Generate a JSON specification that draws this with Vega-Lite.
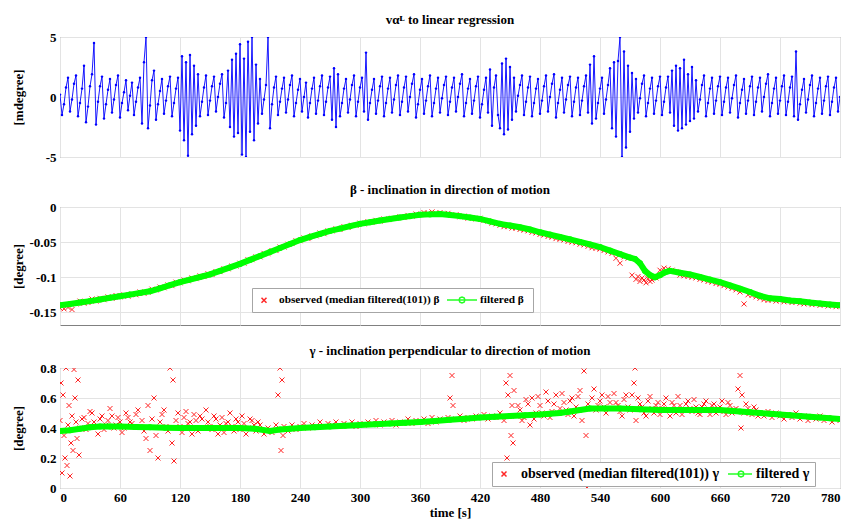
{
"$schema":"https://vega.github.io/schema/vega-lite/v6.json",
"padding":{"left":11,"top":13,"right":0,"bottom":0},
"background":"white",
"config":{
"font":"Liberation Serif",
"title":{"font":"Liberation Serif","fontWeight":"bold","fontSize":13,"offset":4,"color":"black"},
"axis":{"labelFont":"Liberation Serif","labelFontWeight":"bold","labelFontSize":13,"labelColor":"black","titleFont":"Liberation Serif","titleFontWeight":"bold","titleFontSize":13,"titleColor":"black","gridColor":"#e3e3e3","domain":false,"ticks":false,"labelPadding":4},
"axisY":{"titleX":-42,"titleBaseline":"middle"},
"view":{"stroke":"#808080"}
},
"spacing":18,
"resolve":{"scale":{"color":"independent","shape":"independent"}},
"datasets":{
"blue":[{"t":0,"v":0.2},{"t":2,"v":-1.5},{"t":4,"v":-0.6},{"t":6,"v":0.8},{"t":8,"v":1.6},{"t":10,"v":-1.2},{"t":12,"v":-0.2},{"t":14,"v":1.1},{"t":16,"v":1.8},{"t":18,"v":-1.6},
{"t":20,"v":-0.5},{"t":22,"v":0.7},{"t":24,"v":2.6},{"t":26,"v":-2.1},{"t":28,"v":-0.8},{"t":30,"v":0.9},{"t":32,"v":1.9},{"t":34,"v":4.5},{"t":36,"v":-2.3},{"t":38,"v":-0.4},
{"t":40,"v":0.9},{"t":42,"v":1.7},{"t":44,"v":-1.8},{"t":46,"v":-0.6},{"t":48,"v":0.6},{"t":50,"v":1.5},{"t":52,"v":-1.3},{"t":54,"v":-0.2},{"t":56,"v":1.0},{"t":58,"v":1.8},
{"t":60,"v":-1.7},{"t":62,"v":-0.5},{"t":64,"v":0.4},{"t":66,"v":1.4},{"t":68,"v":-1.1},{"t":70,"v":0.1},{"t":72,"v":1.2},{"t":74,"v":-1.5},{"t":76,"v":-0.4},{"t":78,"v":0.8},
{"t":80,"v":1.6},{"t":82,"v":-2.2},{"t":84,"v":2.9},{"t":86,"v":5.0},{"t":88,"v":-2.6},{"t":90,"v":-0.7},{"t":92,"v":1.4},{"t":94,"v":2.2},{"t":96,"v":-1.9},{"t":98,"v":-0.6},
{"t":100,"v":0.5},{"t":102,"v":1.5},{"t":104,"v":-1.4},{"t":106,"v":-0.3},{"t":108,"v":0.9},{"t":110,"v":1.7},{"t":112,"v":-1.6},{"t":114,"v":-0.5},{"t":116,"v":0.7},{"t":118,"v":1.6},
{"t":120,"v":-2.8},{"t":122,"v":3.4},{"t":124,"v":-3.6},{"t":126,"v":2.9},{"t":128,"v":-4.9},{"t":130,"v":3.5},{"t":132,"v":-3.1},{"t":134,"v":2.6},{"t":136,"v":-2.4},{"t":138,"v":1.9},
{"t":140,"v":-1.6},{"t":142,"v":-0.4},{"t":144,"v":0.8},{"t":146,"v":1.8},{"t":148,"v":-1.5},{"t":150,"v":-0.3},{"t":152,"v":0.9},{"t":154,"v":1.7},{"t":156,"v":-1.2},{"t":158,"v":0.0},
{"t":160,"v":1.1},{"t":162,"v":1.9},{"t":164,"v":-1.7},{"t":166,"v":-0.5},{"t":168,"v":2.2},{"t":170,"v":-2.5},{"t":172,"v":3.1},{"t":174,"v":-3.3},{"t":176,"v":3.6},{"t":178,"v":-3.0},
{"t":180,"v":4.4},{"t":182,"v":-4.8},{"t":184,"v":3.2},{"t":186,"v":-5.0},{"t":188,"v":4.6},{"t":190,"v":-2.9},{"t":192,"v":5.0},{"t":194,"v":-3.6},{"t":196,"v":2.7},{"t":198,"v":-2.2},
{"t":200,"v":1.5},{"t":202,"v":-1.4},{"t":204,"v":-0.2},{"t":206,"v":1.0},{"t":208,"v":5.0},{"t":210,"v":-2.6},{"t":212,"v":-0.6},{"t":214,"v":0.8},{"t":216,"v":1.7},{"t":218,"v":-1.5},
{"t":220,"v":-0.4},{"t":222,"v":0.7},{"t":224,"v":1.6},{"t":226,"v":-1.3},{"t":228,"v":-0.2},{"t":230,"v":1.0},{"t":232,"v":1.8},{"t":234,"v":-1.6},{"t":236,"v":-0.5},{"t":238,"v":0.6},
{"t":240,"v":1.5},{"t":242,"v":-1.2},{"t":244,"v":0.0},{"t":246,"v":1.2},{"t":248,"v":-1.7},{"t":250,"v":-0.5},{"t":252,"v":0.7},{"t":254,"v":1.6},{"t":256,"v":-1.4},{"t":258,"v":-0.3},
{"t":260,"v":0.9},{"t":262,"v":1.8},{"t":264,"v":-1.5},{"t":266,"v":-0.4},{"t":268,"v":0.8},{"t":270,"v":1.7},{"t":272,"v":-1.9},{"t":274,"v":2.4},{"t":276,"v":-2.5},{"t":278,"v":1.9},
{"t":280,"v":-1.6},{"t":282,"v":-0.5},{"t":284,"v":0.7},{"t":286,"v":1.5},{"t":288,"v":-1.3},{"t":290,"v":-0.2},{"t":292,"v":1.0},{"t":294,"v":1.8},{"t":296,"v":-1.6},{"t":298,"v":-0.4},
{"t":300,"v":0.8},{"t":302,"v":1.6},{"t":304,"v":-1.2},{"t":306,"v":3.7},{"t":308,"v":-1.9},{"t":310,"v":-0.5},{"t":312,"v":0.6},{"t":314,"v":1.5},{"t":316,"v":-1.4},{"t":318,"v":-0.3},
{"t":320,"v":0.9},{"t":322,"v":1.7},{"t":324,"v":-1.6},{"t":326,"v":-0.5},{"t":328,"v":0.7},{"t":330,"v":1.6},{"t":332,"v":-1.3},{"t":334,"v":-0.2},{"t":336,"v":1.0},{"t":338,"v":1.8},
{"t":340,"v":-1.5},{"t":342,"v":-0.4},{"t":344,"v":0.8},{"t":346,"v":1.7},{"t":348,"v":-1.2},{"t":350,"v":0.0},{"t":352,"v":1.1},{"t":354,"v":1.9},{"t":356,"v":-1.7},{"t":358,"v":-0.6},
{"t":360,"v":0.6},{"t":362,"v":1.5},{"t":364,"v":-1.4},{"t":366,"v":-0.3},{"t":368,"v":0.9},{"t":370,"v":1.8},{"t":372,"v":-1.6},{"t":374,"v":-0.5},{"t":376,"v":0.7},{"t":378,"v":1.6},
{"t":380,"v":-1.3},{"t":382,"v":-0.1},{"t":384,"v":1.0},{"t":386,"v":1.7},{"t":388,"v":-1.5},{"t":390,"v":-0.4},{"t":392,"v":0.8},{"t":394,"v":1.6},{"t":396,"v":-1.2},{"t":398,"v":0.0},
{"t":400,"v":1.1},{"t":402,"v":1.9},{"t":404,"v":-1.6},{"t":406,"v":-0.5},{"t":408,"v":0.7},{"t":410,"v":1.5},{"t":412,"v":-1.4},{"t":414,"v":-0.3},{"t":416,"v":0.9},{"t":418,"v":1.7},
{"t":420,"v":-1.7},{"t":422,"v":-0.6},{"t":424,"v":0.6},{"t":426,"v":1.6},{"t":428,"v":-1.3},{"t":430,"v":2.3},{"t":432,"v":-2.4},{"t":434,"v":0.8},{"t":436,"v":1.8},{"t":438,"v":-1.5},
{"t":440,"v":-2.6},{"t":442,"v":2.8},{"t":444,"v":-3.1},{"t":446,"v":3.2},{"t":448,"v":-2.7},{"t":450,"v":2.5},{"t":452,"v":-1.9},{"t":454,"v":1.6},{"t":456,"v":-1.2},{"t":458,"v":0.1},
{"t":460,"v":1.0},{"t":462,"v":1.8},{"t":464,"v":-1.5},{"t":466,"v":-0.4},{"t":468,"v":0.8},{"t":470,"v":1.7},{"t":472,"v":-1.6},{"t":474,"v":-0.5},{"t":476,"v":0.7},{"t":478,"v":1.5},
{"t":480,"v":-1.4},{"t":482,"v":-0.3},{"t":484,"v":0.9},{"t":486,"v":1.8},{"t":488,"v":-1.2},{"t":490,"v":0.0},{"t":492,"v":1.1},{"t":494,"v":1.9},{"t":496,"v":-1.7},{"t":498,"v":-0.5},
{"t":500,"v":0.6},{"t":502,"v":1.6},{"t":504,"v":-1.3},{"t":506,"v":-0.2},{"t":508,"v":1.0},{"t":510,"v":1.7},{"t":512,"v":-1.6},{"t":514,"v":-0.4},{"t":516,"v":0.8},{"t":518,"v":1.6},
{"t":520,"v":-1.5},{"t":522,"v":-0.3},{"t":524,"v":0.9},{"t":526,"v":1.8},{"t":528,"v":-1.3},{"t":530,"v":2.7},{"t":532,"v":-2.2},{"t":534,"v":3.4},{"t":536,"v":-1.8},{"t":538,"v":-0.5},
{"t":540,"v":0.7},{"t":542,"v":1.6},{"t":544,"v":-1.4},{"t":546,"v":-0.2},{"t":548,"v":1.0},{"t":550,"v":2.4},{"t":552,"v":-2.6},{"t":554,"v":2.9},{"t":556,"v":-3.3},{"t":558,"v":3.0},
{"t":560,"v":5.0},{"t":562,"v":-5.0},{"t":564,"v":3.8},{"t":566,"v":-4.2},{"t":568,"v":2.6},{"t":570,"v":-2.9},{"t":572,"v":2.0},{"t":574,"v":-1.8},{"t":576,"v":1.5},{"t":578,"v":-1.3},
{"t":580,"v":-0.1},{"t":582,"v":1.1},{"t":584,"v":1.8},{"t":586,"v":-1.6},{"t":588,"v":-0.5},{"t":590,"v":0.7},{"t":592,"v":1.6},{"t":594,"v":-1.4},{"t":596,"v":-0.3},{"t":598,"v":0.9},
{"t":600,"v":1.7},{"t":602,"v":-1.5},{"t":604,"v":-0.4},{"t":606,"v":0.8},{"t":608,"v":1.7},{"t":610,"v":-1.3},{"t":612,"v":2.2},{"t":614,"v":-2.4},{"t":616,"v":2.6},{"t":618,"v":-2.8},
{"t":620,"v":2.4},{"t":622,"v":-2.6},{"t":624,"v":3.1},{"t":626,"v":-2.3},{"t":628,"v":1.9},{"t":630,"v":-2.0},{"t":632,"v":2.5},{"t":634,"v":-1.8},{"t":636,"v":1.4},{"t":638,"v":-1.2},
{"t":640,"v":-0.2},{"t":642,"v":1.0},{"t":644,"v":1.8},{"t":646,"v":-1.6},{"t":648,"v":-0.5},{"t":650,"v":0.7},{"t":652,"v":1.6},{"t":654,"v":-1.4},{"t":656,"v":-0.3},{"t":658,"v":0.9},
{"t":660,"v":1.7},{"t":662,"v":-1.5},{"t":664,"v":-0.4},{"t":666,"v":0.8},{"t":668,"v":1.6},{"t":670,"v":-1.3},{"t":672,"v":-0.1},{"t":674,"v":1.0},{"t":676,"v":1.8},{"t":678,"v":-1.7},
{"t":680,"v":-0.5},{"t":682,"v":0.6},{"t":684,"v":1.5},{"t":686,"v":-1.4},{"t":688,"v":-0.3},{"t":690,"v":0.9},{"t":692,"v":1.7},{"t":694,"v":-1.5},{"t":696,"v":-0.4},{"t":698,"v":0.8},
{"t":700,"v":1.6},{"t":702,"v":-1.2},{"t":704,"v":0.0},{"t":706,"v":1.1},{"t":708,"v":1.9},{"t":710,"v":-1.6},{"t":712,"v":-0.5},{"t":714,"v":0.7},{"t":716,"v":1.6},{"t":718,"v":-1.4},
{"t":720,"v":-0.3},{"t":722,"v":0.9},{"t":724,"v":1.8},{"t":726,"v":-1.5},{"t":728,"v":-0.4},{"t":730,"v":0.8},{"t":732,"v":1.7},{"t":734,"v":-1.6},{"t":736,"v":3.8},{"t":738,"v":-1.9},
{"t":740,"v":-0.6},{"t":742,"v":0.6},{"t":744,"v":1.5},{"t":746,"v":-1.3},{"t":748,"v":-0.2},{"t":750,"v":1.0},{"t":752,"v":1.8},{"t":754,"v":-1.6},{"t":756,"v":-0.5},{"t":758,"v":0.7},
{"t":760,"v":1.6},{"t":762,"v":-1.4},{"t":764,"v":-0.3},{"t":766,"v":0.9},{"t":768,"v":1.7},{"t":770,"v":-1.5},{"t":772,"v":-0.4},{"t":774,"v":0.8},{"t":776,"v":1.6},{"t":778,"v":-1.2},
{"t":780,"v":0.0}],
"beta_obs":[{"t":0,"v":-0.144},{"t":4,"v":-0.145},{"t":8,"v":-0.143},{"t":12,"v":-0.146},{"t":16,"v":-0.138},{"t":20,"v":-0.134},{"t":24,"v":-0.137},{"t":28,"v":-0.136},
{"t":32,"v":-0.131},{"t":36,"v":-0.134},{"t":40,"v":-0.130},{"t":44,"v":-0.132},{"t":48,"v":-0.128},{"t":52,"v":-0.130},{"t":56,"v":-0.126},
{"t":60,"v":-0.128},{"t":64,"v":-0.125},{"t":68,"v":-0.127},{"t":72,"v":-0.124},{"t":76,"v":-0.125},{"t":80,"v":-0.121},{"t":84,"v":-0.123},{"t":88,"v":-0.121},
{"t":92,"v":-0.117},{"t":96,"v":-0.118},{"t":100,"v":-0.114},{"t":104,"v":-0.115},{"t":108,"v":-0.111},{"t":112,"v":-0.112},{"t":116,"v":-0.107},
{"t":120,"v":-0.108},{"t":124,"v":-0.104},{"t":128,"v":-0.105},{"t":132,"v":-0.101},{"t":136,"v":-0.102},{"t":140,"v":-0.098},{"t":144,"v":-0.099},{"t":148,"v":-0.095},
{"t":152,"v":-0.096},{"t":156,"v":-0.092},{"t":160,"v":-0.092},{"t":164,"v":-0.088},{"t":168,"v":-0.088},{"t":172,"v":-0.084},{"t":176,"v":-0.084},
{"t":180,"v":-0.080},{"t":184,"v":-0.080},{"t":188,"v":-0.075},{"t":192,"v":-0.075},{"t":196,"v":-0.071},{"t":200,"v":-0.071},{"t":204,"v":-0.066},{"t":208,"v":-0.066},
{"t":212,"v":-0.062},{"t":216,"v":-0.062},{"t":220,"v":-0.057},{"t":224,"v":-0.057},{"t":228,"v":-0.053},{"t":232,"v":-0.052},{"t":236,"v":-0.048},
{"t":240,"v":-0.048},{"t":244,"v":-0.044},{"t":248,"v":-0.045},{"t":252,"v":-0.041},{"t":256,"v":-0.041},{"t":260,"v":-0.037},{"t":264,"v":-0.038},{"t":268,"v":-0.034},
{"t":272,"v":-0.034},{"t":276,"v":-0.031},{"t":280,"v":-0.032},{"t":284,"v":-0.028},{"t":288,"v":-0.029},{"t":292,"v":-0.026},{"t":296,"v":-0.026},
{"t":300,"v":-0.023},{"t":304,"v":-0.024},{"t":308,"v":-0.021},{"t":312,"v":-0.022},{"t":316,"v":-0.019},{"t":320,"v":-0.020},{"t":324,"v":-0.017},{"t":328,"v":-0.018},
{"t":332,"v":-0.016},{"t":336,"v":-0.016},{"t":340,"v":-0.014},{"t":344,"v":-0.015},{"t":348,"v":-0.012},{"t":352,"v":-0.013},{"t":356,"v":-0.010},
{"t":360,"v":-0.011},{"t":364,"v":-0.008},{"t":368,"v":-0.009},{"t":372,"v":-0.007},{"t":376,"v":-0.009},
{"t":380,"v":-0.008},{"t":384,"v":-0.010},{"t":388,"v":-0.009},{"t":392,"v":-0.012},{"t":396,"v":-0.011},
{"t":400,"v":-0.014},{"t":404,"v":-0.013},{"t":408,"v":-0.016},{"t":412,"v":-0.015},{"t":416,"v":-0.017},
{"t":420,"v":-0.016},{"t":424,"v":-0.019},{"t":428,"v":-0.020},{"t":432,"v":-0.023},{"t":436,"v":-0.024},
{"t":440,"v":-0.026},{"t":444,"v":-0.028},{"t":448,"v":-0.028},{"t":452,"v":-0.030},{"t":456,"v":-0.030},{"t":460,"v":-0.032},{"t":464,"v":-0.033},
{"t":468,"v":-0.034},{"t":472,"v":-0.036},{"t":476,"v":-0.037},{"t":480,"v":-0.039},
{"t":484,"v":-0.040},{"t":488,"v":-0.042},{"t":492,"v":-0.043},{"t":496,"v":-0.045},{"t":500,"v":-0.046},{"t":504,"v":-0.047},{"t":508,"v":-0.049},
{"t":512,"v":-0.050},{"t":516,"v":-0.051},{"t":520,"v":-0.053},{"t":524,"v":-0.054},{"t":528,"v":-0.056},{"t":532,"v":-0.058},{"t":536,"v":-0.059},
{"t":540,"v":-0.060},{"t":544,"v":-0.062},{"t":548,"v":-0.064},{"t":552,"v":-0.066},{"t":556,"v":-0.073},{"t":560,"v":-0.080},
{"t":564,"v":-0.071},{"t":568,"v":-0.073},{"t":572,"v":-0.097},
{"t":576,"v":-0.103},{"t":578,"v":-0.099},{"t":580,"v":-0.106},{"t":582,"v":-0.101},{"t":584,"v":-0.104},{"t":586,"v":-0.108},{"t":588,"v":-0.102},{"t":590,"v":-0.106},{"t":592,"v":-0.104},{"t":596,"v":-0.101},
{"t":600,"v":-0.090},{"t":604,"v":-0.087},{"t":608,"v":-0.088},
{"t":612,"v":-0.090},{"t":616,"v":-0.092},{"t":620,"v":-0.097},{"t":624,"v":-0.098},{"t":628,"v":-0.099},
{"t":632,"v":-0.100},{"t":636,"v":-0.101},{"t":640,"v":-0.103},{"t":644,"v":-0.104},{"t":648,"v":-0.106},{"t":652,"v":-0.107},{"t":656,"v":-0.109},
{"t":660,"v":-0.110},{"t":664,"v":-0.112},{"t":668,"v":-0.114},{"t":672,"v":-0.116},{"t":676,"v":-0.118},{"t":680,"v":-0.121},{"t":684,"v":-0.138},{"t":688,"v":-0.125},
{"t":692,"v":-0.126},{"t":696,"v":-0.128},{"t":700,"v":-0.130},{"t":704,"v":-0.132},
{"t":708,"v":-0.133},{"t":712,"v":-0.132},{"t":716,"v":-0.134},
{"t":720,"v":-0.133},{"t":724,"v":-0.135},{"t":728,"v":-0.134},{"t":732,"v":-0.136},{"t":736,"v":-0.135},{"t":740,"v":-0.137},{"t":744,"v":-0.138},{"t":748,"v":-0.137},
{"t":752,"v":-0.139},{"t":756,"v":-0.138},{"t":760,"v":-0.140},{"t":764,"v":-0.139},{"t":768,"v":-0.141},{"t":772,"v":-0.140},{"t":776,"v":-0.142},{"t":780,"v":-0.141}],
"beta_filt":[{"t":0,"v":-0.140},{"t":10,"v":-0.138},{"t":20,"v":-0.136},{"t":30,"v":-0.134},{"t":40,"v":-0.1317},{"t":50,"v":-0.1293},{"t":60,"v":-0.127},{"t":70,"v":-0.1247},{"t":80,"v":-0.1223},{"t":90,"v":-0.120},
{"t":100,"v":-0.1157},{"t":110,"v":-0.1113},{"t":120,"v":-0.107},{"t":130,"v":-0.1033},{"t":140,"v":-0.0997},{"t":150,"v":-0.096},{"t":160,"v":-0.091},{"t":170,"v":-0.086},{"t":180,"v":-0.081},{"t":190,"v":-0.0753},
{"t":200,"v":-0.0697},{"t":210,"v":-0.064},{"t":220,"v":-0.0583},{"t":230,"v":-0.0527},{"t":240,"v":-0.047},{"t":250,"v":-0.0427},{"t":260,"v":-0.0383},{"t":270,"v":-0.034},{"t":280,"v":-0.0307},{"t":290,"v":-0.0273},
{"t":300,"v":-0.024},{"t":310,"v":-0.0217},{"t":320,"v":-0.0193},{"t":330,"v":-0.017},{"t":340,"v":-0.015},{"t":350,"v":-0.013},{"t":360,"v":-0.011},{"t":370,"v":-0.0105},{"t":380,"v":-0.010},{"t":390,"v":-0.0115},
{"t":400,"v":-0.013},{"t":410,"v":-0.015},{"t":420,"v":-0.017},{"t":430,"v":-0.0205},{"t":440,"v":-0.024},{"t":450,"v":-0.0264},{"t":460,"v":-0.0288},{"t":470,"v":-0.032},{"t":480,"v":-0.036},{"t":490,"v":-0.0393},
{"t":500,"v":-0.0427},{"t":510,"v":-0.046},{"t":520,"v":-0.0497},{"t":530,"v":-0.0533},{"t":540,"v":-0.057},{"t":550,"v":-0.062},{"t":560,"v":-0.067},{"t":570,"v":-0.072},{"t":575,"v":-0.074},{"t":580,"v":-0.080},
{"t":585,"v":-0.091},{"t":590,"v":-0.097},{"t":595,"v":-0.100},{"t":600,"v":-0.097},{"t":605,"v":-0.093},{"t":610,"v":-0.091},{"t":620,"v":-0.0935},{"t":630,"v":-0.096},{"t":640,"v":-0.0997},{"t":650,"v":-0.1033},
{"t":660,"v":-0.107},{"t":670,"v":-0.1117},{"t":680,"v":-0.1163},{"t":690,"v":-0.121},{"t":700,"v":-0.1264},{"t":710,"v":-0.130},{"t":720,"v":-0.131},{"t":730,"v":-0.133},{"t":740,"v":-0.1343},{"t":750,"v":-0.136},
{"t":760,"v":-0.1373},{"t":770,"v":-0.1387},{"t":780,"v":-0.140}],
"gamma_obs":[{"t":0,"v":0.45},{"t":1,"v":0.7},{"t":2,"v":0.1},{"t":3,"v":0.62},{"t":4,"v":0.35},{"t":5,"v":0.2},{"t":6,"v":0.8},{"t":7,"v":0.15},{"t":8,"v":0.42},{"t":9,"v":0.55},{"t":10,"v":0.08},{"t":11,"v":0.3},{"t":12,"v":0.48},{"t":13,"v":0.25},{"t":14,"v":0.79},{"t":15,"v":0.6},{"t":16,"v":0.44},{"t":17,"v":0.33},{"t":18,"v":0.72},{"t":19,"v":0.22},
{"t":20,"v":0.40},{"t":24,"v":0.47},{"t":28,"v":0.43},{"t":32,"v":0.50},{"t":36,"v":0.41},{"t":40,"v":0.46},{"t":44,"v":0.39},{"t":48,"v":0.45},{"t":52,"v":0.48},{"t":56,"v":0.42},
{"t":60,"v":0.44},{"t":64,"v":0.40},{"t":68,"v":0.47},{"t":72,"v":0.43},{"t":76,"v":0.49},{"t":80,"v":0.41},{"t":84,"v":0.38},{"t":88,"v":0.55},{"t":90,"v":0.25},{"t":92,"v":0.46},{"t":94,"v":0.60},{"t":96,"v":0.35},{"t":98,"v":0.20},
{"t":100,"v":0.44},{"t":104,"v":0.52},{"t":108,"v":0.38},{"t":110,"v":0.80},{"t":112,"v":0.30},{"t":113,"v":0.72},{"t":114,"v":0.18},{"t":116,"v":0.45},
{"t":120,"v":0.41},{"t":124,"v":0.47},{"t":128,"v":0.43},{"t":132,"v":0.36},{"t":136,"v":0.45},{"t":140,"v":0.48},{"t":144,"v":0.40},{"t":148,"v":0.44},{"t":152,"v":0.39},{"t":156,"v":0.46},
{"t":160,"v":0.42},{"t":164,"v":0.37},{"t":168,"v":0.44},{"t":172,"v":0.41},{"t":176,"v":0.46},{"t":180,"v":0.39},{"t":184,"v":0.43},{"t":188,"v":0.40},{"t":192,"v":0.45},{"t":196,"v":0.38},
{"t":22,"v":0.46},{"t":26,"v":0.39},{"t":30,"v":0.51},{"t":34,"v":0.44},{"t":38,"v":0.36},{"t":42,"v":0.48},{"t":46,"v":0.42},{"t":50,"v":0.53},{"t":54,"v":0.40},{"t":58,"v":0.47},{"t":62,"v":0.37},{"t":66,"v":0.50},{"t":70,"v":0.44},{"t":74,"v":0.41},{"t":78,"v":0.52},{"t":82,"v":0.45},{"t":86,"v":0.33},{"t":102,"v":0.49},{"t":106,"v":0.41},{"t":118,"v":0.50},{"t":122,"v":0.37},{"t":126,"v":0.51},{"t":130,"v":0.44},{"t":134,"v":0.49},{"t":138,"v":0.38},{"t":142,"v":0.46},{"t":146,"v":0.52},{"t":150,"v":0.41},{"t":154,"v":0.48},{"t":158,"v":0.36},{"t":162,"v":0.47},{"t":166,"v":0.43},{"t":170,"v":0.50},{"t":174,"v":0.38},{"t":178,"v":0.44},{"t":182,"v":0.48},{"t":186,"v":0.36},{"t":190,"v":0.46},{"t":194,"v":0.42},{"t":198,"v":0.44},
{"t":200,"v":0.42},{"t":204,"v":0.36},{"t":208,"v":0.40},{"t":212,"v":0.37},{"t":216,"v":0.42},{"t":218,"v":0.62},{"t":220,"v":0.80},{"t":221,"v":0.25},{"t":222,"v":0.72},{"t":223,"v":0.35},{"t":224,"v":0.41},{"t":228,"v":0.38},{"t":232,"v":0.42},{"t":236,"v":0.39},
{"t":240,"v":0.41},{"t":244,"v":0.43},{"t":248,"v":0.40},{"t":252,"v":0.42},{"t":256,"v":0.41},{"t":260,"v":0.44},{"t":264,"v":0.41},{"t":268,"v":0.43},{"t":272,"v":0.42},{"t":276,"v":0.44},
{"t":280,"v":0.41},{"t":284,"v":0.43},{"t":288,"v":0.42},{"t":292,"v":0.44},{"t":296,"v":0.41},{"t":300,"v":0.43},{"t":304,"v":0.42},{"t":308,"v":0.44},{"t":312,"v":0.43},{"t":316,"v":0.45},
{"t":320,"v":0.42},{"t":324,"v":0.44},{"t":328,"v":0.43},{"t":332,"v":0.45},{"t":336,"v":0.42},{"t":340,"v":0.44},{"t":344,"v":0.43},{"t":348,"v":0.46},{"t":352,"v":0.43},{"t":356,"v":0.45},
{"t":360,"v":0.44},{"t":364,"v":0.46},{"t":368,"v":0.43},{"t":372,"v":0.47},{"t":376,"v":0.44},{"t":380,"v":0.46},{"t":384,"v":0.45},{"t":388,"v":0.47},{"t":390,"v":0.60},{"t":392,"v":0.75},{"t":393,"v":0.55},{"t":396,"v":0.46},
{"t":400,"v":0.48},{"t":404,"v":0.45},{"t":408,"v":0.47},{"t":412,"v":0.46},{"t":416,"v":0.48},{"t":420,"v":0.47},{"t":424,"v":0.49},{"t":428,"v":0.46},{"t":432,"v":0.48},{"t":436,"v":0.47},
{"t":440,"v":0.50},{"t":444,"v":0.45},{"t":446,"v":0.70},{"t":447,"v":0.20},{"t":448,"v":0.62},{"t":449,"v":0.15},{"t":450,"v":0.75},{"t":451,"v":0.35},{"t":452,"v":0.55},{"t":453,"v":0.30},{"t":454,"v":0.65},{"t":456,"v":0.48},
{"t":460,"v":0.52},{"t":464,"v":0.47},{"t":468,"v":0.56},{"t":470,"v":0.42},{"t":472,"v":0.60},{"t":476,"v":0.50},{"t":480,"v":0.55},{"t":484,"v":0.48},{"t":488,"v":0.58},{"t":492,"v":0.51},{"t":496,"v":0.62},
{"t":500,"v":0.53},{"t":504,"v":0.57},{"t":508,"v":0.49},{"t":512,"v":0.60},{"t":516,"v":0.54},{"t":520,"v":0.65},{"t":522,"v":0.45},{"t":524,"v":0.78},{"t":525,"v":0.10},{"t":526,"v":0.35},{"t":527,"v":0.0},{"t":528,"v":0.56},
{"t":532,"v":0.60},{"t":536,"v":0.52},{"t":540,"v":0.58},{"t":544,"v":0.54},{"t":548,"v":0.61},{"t":552,"v":0.53},{"t":556,"v":0.57},{"t":560,"v":0.51},{"t":564,"v":0.59},{"t":568,"v":0.54},{"t":572,"v":0.62},{"t":574,"v":0.70},{"t":575,"v":0.80},{"t":576,"v":0.45},
{"t":580,"v":0.56},{"t":584,"v":0.50},{"t":588,"v":0.58},{"t":592,"v":0.53},{"t":596,"v":0.55},{"t":600,"v":0.49},{"t":604,"v":0.56},{"t":608,"v":0.52},{"t":612,"v":0.57},{"t":616,"v":0.50},
{"t":620,"v":0.55},{"t":624,"v":0.52},{"t":628,"v":0.58},{"t":632,"v":0.51},{"t":636,"v":0.54},{"t":640,"v":0.49},{"t":644,"v":0.56},{"t":648,"v":0.52},{"t":652,"v":0.55},{"t":656,"v":0.50},
{"t":660,"v":0.54},{"t":664,"v":0.51},{"t":668,"v":0.57},{"t":672,"v":0.50},{"t":676,"v":0.53},{"t":678,"v":0.66},{"t":680,"v":0.75},{"t":681,"v":0.40},{"t":682,"v":0.62},{"t":684,"v":0.50},{"t":688,"v":0.53},{"t":692,"v":0.49},{"t":696,"v":0.52},
{"t":458,"v":0.55},{"t":462,"v":0.45},{"t":466,"v":0.59},{"t":474,"v":0.46},{"t":478,"v":0.61},{"t":482,"v":0.50},{"t":486,"v":0.64},{"t":490,"v":0.47},{"t":494,"v":0.56},{"t":498,"v":0.50},{"t":502,"v":0.63},{"t":506,"v":0.52},{"t":510,"v":0.58},{"t":514,"v":0.48},{"t":518,"v":0.61},{"t":530,"v":0.53},{"t":534,"v":0.66},{"t":538,"v":0.55},{"t":542,"v":0.62},{"t":546,"v":0.50},{"t":550,"v":0.57},{"t":554,"v":0.63},{"t":558,"v":0.55},{"t":562,"v":0.48},{"t":566,"v":0.62},{"t":570,"v":0.52},{"t":578,"v":0.60},{"t":582,"v":0.54},{"t":586,"v":0.48},{"t":590,"v":0.61},{"t":594,"v":0.50},{"t":598,"v":0.57},{"t":602,"v":0.53},{"t":606,"v":0.60},{"t":610,"v":0.48},{"t":614,"v":0.55},{"t":618,"v":0.61},{"t":622,"v":0.49},{"t":626,"v":0.56},{"t":630,"v":0.53},{"t":634,"v":0.59},{"t":638,"v":0.50},{"t":642,"v":0.54},{"t":646,"v":0.58},{"t":650,"v":0.49},{"t":654,"v":0.56},{"t":658,"v":0.53},{"t":662,"v":0.58},{"t":666,"v":0.49},{"t":670,"v":0.55},{"t":674,"v":0.52},{"t":686,"v":0.56},{"t":690,"v":0.50},{"t":694,"v":0.54},{"t":698,"v":0.48},
{"t":700,"v":0.50},{"t":704,"v":0.48},{"t":708,"v":0.51},{"t":712,"v":0.47},{"t":716,"v":0.50},{"t":720,"v":0.48},{"t":724,"v":0.46},{"t":728,"v":0.49},{"t":732,"v":0.47},{"t":736,"v":0.50},
{"t":740,"v":0.46},{"t":744,"v":0.48},{"t":748,"v":0.45},{"t":752,"v":0.47},{"t":756,"v":0.46},{"t":760,"v":0.48},{"t":764,"v":0.45},{"t":768,"v":0.47},{"t":772,"v":0.44},{"t":776,"v":0.46},{"t":780,"v":0.45}],
"gamma_filt":[{"t":0,"v":0.38},{"t":10,"v":0.385},{"t":20,"v":0.395},{"t":30,"v":0.405},{"t":40,"v":0.41},{"t":50,"v":0.41},{"t":60,"v":0.41},{"t":75,"v":0.407},{"t":90,"v":0.405},{"t":105,"v":0.402},{"t":120,"v":0.40},{"t":135,"v":0.40},{"t":150,"v":0.40},{"t":165,"v":0.40},{"t":180,"v":0.40},{"t":195,"v":0.395},{"t":210,"v":0.38},{"t":220,"v":0.39},{"t":230,"v":0.395},{"t":240,"v":0.40},{"t":255,"v":0.405},{"t":270,"v":0.41},{"t":285,"v":0.415},{"t":300,"v":0.42},{"t":315,"v":0.425},{"t":330,"v":0.43},{"t":345,"v":0.435},{"t":360,"v":0.44},{"t":375,"v":0.447},{"t":390,"v":0.455},{"t":405,"v":0.462},{"t":420,"v":0.47},{"t":435,"v":0.475},{"t":450,"v":0.48},{"t":465,"v":0.485},{"t":480,"v":0.49},{"t":490,"v":0.495},{"t":500,"v":0.50},{"t":510,"v":0.51},{"t":520,"v":0.52},{"t":530,"v":0.53},{"t":545,"v":0.53},{"t":560,"v":0.53},{"t":580,"v":0.525},{"t":600,"v":0.52},{"t":615,"v":0.52},{"t":630,"v":0.52},{"t":645,"v":0.52},{"t":660,"v":0.52},{"t":670,"v":0.515},{"t":680,"v":0.51},{"t":690,"v":0.505},{"t":700,"v":0.50},{"t":710,"v":0.495},{"t":720,"v":0.49},{"t":730,"v":0.485},{"t":740,"v":0.48},{"t":750,"v":0.475},{"t":760,"v":0.47},{"t":770,"v":0.465},{"t":780,"v":0.46}]
},
"vconcat":[
{
"width":780,"height":120,
"title":"vαᴸ to linear regression",
"data":{"name":"blue"},
"mark":{"type":"line","color":"#0000ff","strokeWidth":0.9,"clip":true,"point":{"filled":true,"size":6,"color":"#0000ff"}},
"encoding":{
"x":{"field":"t","type":"quantitative","scale":{"domain":[0,780],"nice":false},"axis":{"values":[0,60,120,180,240,300,360,420,480,540,600,660,720,780],"labels":false,"title":null}},
"y":{"field":"v","type":"quantitative","scale":{"domain":[-5,5],"nice":false},"axis":{"values":[-5,0,5],"title":"[mdegree]","labelExpr":"replace(format(datum.value,'~g'),'−','-')"}}
}
},
{
"width":780,"height":118,
"title":"β - inclination in direction of motion",
"encoding":{
"x":{"field":"t","type":"quantitative","scale":{"domain":[0,780],"nice":false},"axis":{"values":[0,60,120,180,240,300,360,420,480,540,600,660,720,780],"labels":false,"title":null}},
"y":{"field":"v","type":"quantitative","scale":{"domain":[-0.168,0],"nice":false},"axis":{"values":[-0.15,-0.1,-0.05,0],"title":"[degree]","labelExpr":"replace(format(datum.value,'~g'),'−','-')"}}
},
"layer":[
{"data":{"name":"beta_obs"},
"mark":{"type":"point","filled":false,"size":100,"strokeWidth":1,"opacity":0.85,"clip":true},
"encoding":{
"color":{"datum":"observed (median filtered(101)) β","type":"nominal","scale":{"domain":["observed (median filtered(101)) β","filtered  β"],"range":["#ff0000","#00ff00"]},
"legend":{"orient":"none","legendX":192,"legendY":81,"direction":"horizontal","title":null,"labelFont":"Liberation Serif","labelFontWeight":"bold","labelFontSize":11.3,"labelColor":"black","labelLimit":400,"labelOffset":9,"columnPadding":4,"padding":6,"symbolSize":100,"symbolStrokeWidth":1.5,"strokeColor":"#a6a6a6","fillColor":"#ffffff"}},
"shape":{"datum":"observed (median filtered(101)) β","type":"nominal","scale":{"domain":["observed (median filtered(101)) β","filtered  β"],"range":["M-0.5,-0.5L0.5,0.5M-0.5,0.5L0.5,-0.5","M-3.6,0L2.4,0M0,0L-0.18,0.42L-0.6,0.6L-1.02,0.42L-1.2,0L-1.02,-0.42L-0.6,-0.6L-0.18,-0.42Z"]},
"legend":{"orient":"none","legendX":192,"legendY":81,"direction":"horizontal","title":null,"labelFont":"Liberation Serif","labelFontWeight":"bold","labelFontSize":11.3,"labelColor":"black","labelLimit":400,"labelOffset":9,"columnPadding":4,"padding":6,"symbolSize":100,"symbolStrokeWidth":1.5,"strokeColor":"#a6a6a6","fillColor":"#ffffff"}}
}},
{"data":{"name":"beta_filt"},
"mark":{"type":"line","color":"#00ff00","strokeWidth":6,"clip":true,"point":{"filled":true,"size":36,"color":"#00ff00"}},
"encoding":{}}
]
},
{
"width":780,"height":120,
"title":"γ - inclination perpendicular to direction of motion",
"encoding":{
"x":{"field":"t","type":"quantitative","scale":{"domain":[0,780],"nice":false},"axis":{"values":[0,60,120,180,240,300,360,420,480,540,600,660,720,780],"title":"time [s]","labelPadding":3,"titlePadding":2}},
"y":{"field":"v","type":"quantitative","scale":{"domain":[0,0.8],"nice":false},"axis":{"values":[0,0.2,0.4,0.6,0.8],"title":"[degree]","labelExpr":"format(datum.value,'~g')"}}
},
"layer":[
{"data":{"name":"gamma_obs"},
"mark":{"type":"point","filled":false,"size":100,"strokeWidth":1,"opacity":0.85,"clip":true},
"encoding":{
"color":{"datum":"observed (median filtered(101)) γ","type":"nominal","scale":{"domain":["observed (median filtered(101)) γ","filtered γ"],"range":["#ff0000","#00ff00"]},
"legend":{"orient":"none","legendX":432,"legendY":94,"direction":"horizontal","title":null,"labelFont":"Liberation Serif","labelFontWeight":"bold","labelFontSize":14,"labelColor":"black","labelLimit":400,"labelOffset":10,"columnPadding":6,"padding":5,"symbolSize":100,"symbolStrokeWidth":1.5,"strokeColor":"#a6a6a6","fillColor":"#ffffff"}},
"shape":{"datum":"observed (median filtered(101)) γ","type":"nominal","scale":{"domain":["observed (median filtered(101)) γ","filtered γ"],"range":["M-0.5,-0.5L0.5,0.5M-0.5,0.5L0.5,-0.5","M-2.2,0L2.6,0M1,0L0.82,0.42L0.4,0.6L-0.02,0.42L-0.2,0L-0.02,-0.42L0.4,-0.6L0.82,-0.42Z"]},
"legend":{"orient":"none","legendX":432,"legendY":94,"direction":"horizontal","title":null,"labelFont":"Liberation Serif","labelFontWeight":"bold","labelFontSize":14,"labelColor":"black","labelLimit":400,"labelOffset":10,"columnPadding":6,"padding":5,"symbolSize":100,"symbolStrokeWidth":1.5,"strokeColor":"#a6a6a6","fillColor":"#ffffff"}}
}},
{"data":{"name":"gamma_filt"},
"mark":{"type":"line","color":"#00ff00","strokeWidth":6,"clip":true,"point":{"filled":true,"size":36,"color":"#00ff00"}},
"encoding":{}}
]
}
]
}
